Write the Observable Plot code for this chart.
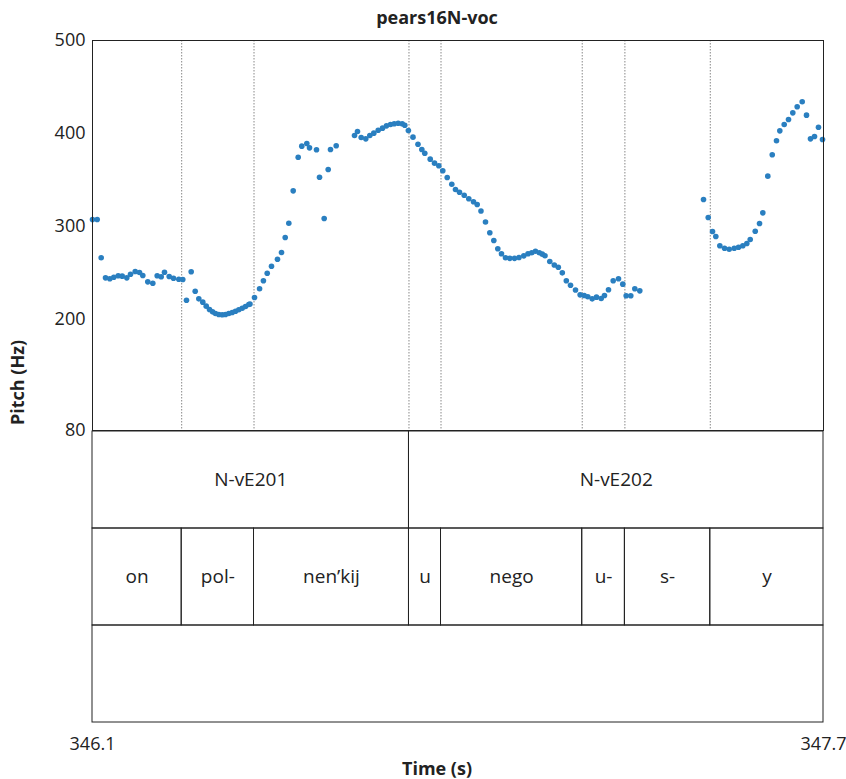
<!DOCTYPE html>
<html><head><meta charset="utf-8">
<script src="https://cdn.jsdelivr.net/npm/d3@7"></script>
<script src="https://cdn.jsdelivr.net/npm/@observablehq/plot@0.6"></script>
<style>body{margin:0;background:#fff} #chart svg{display:block;overflow:visible}</style>
</head><body><div id="chart"></div>
<script>
const title = "pears16N-voc";
const xLabel = "Time (s)";
const yLabel = "Pitch (Hz)";
const xDomain = [346.1, 347.7];
const yDomain = [80, 500];
const yTicks = [80, 200, 300, 400, 500];
const xTicks = [346.1, 347.7];

// pitch track (s, Hz)
const times = [
346.1000,346.1103,346.1190,346.1285,346.1379,346.1466,346.1563,346.1650,346.1751,346.1832,
346.1935,346.2029,346.2101,346.2210,346.2320,346.2416,346.2504,346.2576,346.2679,346.2773,
346.2889,346.2976,346.3057,346.3160,346.3248,346.3327,346.3414,346.3489,346.3561,346.3627,
346.3692,346.3764,346.3839,346.3911,346.3983,346.4058,346.4130,346.4202,346.4277,346.4349,
346.4421,346.4447,346.4546,346.4657,346.4741,346.4824,346.4918,346.5049,346.5137,346.5218,
346.5297,346.5393,346.5502,346.5581,346.5691,346.5750,346.5903,346.5969,346.6071,346.6159,
346.6209,346.6334,346.6735,346.6800,346.6881,346.6982,346.7070,346.7157,346.7253,346.7348,
346.7435,346.7523,346.7604,346.7691,346.7779,346.7836,346.7914,346.8015,346.8124,346.8208,
346.8273,346.8392,346.8486,346.8580,346.8667,346.8764,346.8864,346.8945,346.9033,346.9136,
346.9236,346.9339,346.9420,346.9503,346.9602,346.9696,346.9784,346.9871,346.9952,347.0040,
347.0134,347.0237,347.0335,347.0440,347.0532,347.0615,347.0696,347.0780,347.0845,347.0904,
347.1009,347.1108,347.1196,347.1283,347.1371,347.1463,347.1572,347.1673,347.1762,347.1841,
347.1937,347.2031,347.2134,347.2206,347.2294,347.2397,347.2513,347.2607,347.2681,347.2782,
347.2870,347.2979,
347.4374,347.4477,347.4571,347.4643,347.4731,347.4834,347.4936,347.5046,347.5140,347.5234,
347.5322,347.5396,347.5506,347.5600,347.5672,347.5781,347.5878,347.5971,347.6044,347.6140,
347.6234,347.6328,347.6424,347.6534,347.6628,347.6715,347.6803,347.6890,347.6978
];
const pitches = [
307.2,307.2,266.0,244.4,243.4,245.1,246.6,246.2,244.4,248.3,
251.2,250.2,246.9,240.1,238.6,246.6,245.5,250.5,245.8,244.0,
242.9,242.6,220.3,250.9,230.0,221.8,218.2,213.9,210.3,207.8,
206.0,204.9,204.6,204.9,206.0,207.1,208.5,210.0,211.7,213.5,
215.7,216.2,223.2,232.7,241.2,249.4,256.9,264.5,271.7,287.8,
303.2,338.1,374.3,386.2,389.1,384.4,382.3,352.8,308.3,361.1,
382.6,386.6,397.7,402.0,395.5,394.1,397.7,400.2,403.4,405.6,
408.1,409.5,410.3,410.9,410.3,408.8,403.1,395.9,388.2,382.6,
378.6,372.2,367.9,365.1,359.7,352.5,345.2,339.5,336.6,333.4,
329.5,326.3,323.4,316.4,304.5,293.0,284.6,275.7,270.3,266.0,
265.4,265.4,266.3,268.1,270.3,271.5,273.0,271.5,269.9,268.2,
262.0,258.2,255.8,249.8,241.3,236.4,231.3,226.1,225.4,224.0,
221.8,223.6,222.2,225.4,231.5,241.2,243.4,237.6,225.1,225.1,
232.6,230.4,
328.8,309.4,294.3,288.9,278.9,276.3,275.2,276.3,277.4,278.9,
281.4,285.7,294.6,302.9,314.4,353.9,376.9,392.0,402.7,409.5,
414.9,422.1,428.6,434.0,419.6,394.1,396.6,406.6,393.4
];

// annotation tiers
const tierNames = ["tier1", "tier2", "tier3"];
const tier1Labels = ["N-vE201", "N-vE202"];
const tier1Bounds = [346.1, 346.7927, 347.7];
const tier2Labels = ["on", "pol-", "nen\u2019kij", "u", "nego", "u-", "s-", "y"];
const tier2Bounds = [346.1, 346.2952, 346.4535, 346.7927, 346.8628, 347.1719, 347.2653, 347.4522, 347.7];

const pitchData = times.map((t, i) => ({t, hz: pitches[i]}));
const intervals = [
  ...tier1Labels.map((l, i) => ({tier: "tier1", label: l, start: tier1Bounds[i], end: tier1Bounds[i + 1]})),
  ...tier2Labels.map((l, i) => ({tier: "tier2", label: l, start: tier2Bounds[i], end: tier2Bounds[i + 1]})),
  {tier: "tier3", label: "", start: xDomain[0], end: xDomain[1]}
];
const innerBounds = tier2Bounds.slice(1, -1);

const FONT = "'Open Sans', 'DejaVu Sans', sans-serif";
const W = 846, ML = 92, MR = 23;

const pitchPlot = Plot.plot({
  width: W, height: 430,
  marginTop: 40, marginBottom: 0, marginLeft: ML, marginRight: MR,
  style: {fontFamily: FONT, fontSize: "18px", color: "#222", background: "transparent", overflow: "visible"},
  x: {domain: xDomain, axis: null},
  y: {domain: yDomain},
  marks: [
    Plot.ruleX(innerBounds, {stroke: "#888", strokeWidth: 1, strokeDasharray: "1.5,1.5"}),
    Plot.axisY({ticks: yTicks, tickSize: 0, tickPadding: 7, label: null, fontSize: 18}),
    Plot.dot(pitchData, {x: "t", y: "hz", r: 2.8, fill: "#2a7fc0", stroke: "none"}),
    Plot.frame({stroke: "#222", strokeWidth: 1}),
    Plot.text([title], {frameAnchor: "top", dx: -21, dy: -22, fontWeight: "bold", fontSize: 18, lineAnchor: "middle"}),
    Plot.text([yLabel], {frameAnchor: "bottom-left", dx: -74, dy: -48, rotate: -90, fontWeight: "bold", fontSize: 18, lineAnchor: "middle", textAnchor: "middle"})
  ]
});

const tierPlot = Plot.plot({
  width: W, height: 349,
  marginTop: 0, marginBottom: 56, marginLeft: ML, marginRight: MR,
  style: {fontFamily: FONT, fontSize: "18px", color: "#222", background: "transparent", overflow: "visible"},
  x: {domain: xDomain},
  y: {domain: tierNames, axis: null, padding: 0},
  marks: [
    Plot.barX(intervals, {x1: "start", x2: "end", y: "tier", fill: "none", stroke: "#222", strokeWidth: 1, inset: 0}),
    Plot.text(intervals, {x: d => (d.start + d.end) / 2, y: "tier", text: "label", fontSize: 19, fill: "#222"}),
    Plot.axisX({ticks: xTicks, tickSize: 0, tickPadding: 14, tickFormat: d => d.toFixed(1), label: null, fontSize: 18}),
    Plot.text([xLabel], {frameAnchor: "bottom", dx: -21, dy: 46, fontWeight: "bold", fontSize: 18, lineAnchor: "middle"})
  ]
});

const chart = document.getElementById("chart");
chart.appendChild(pitchPlot);
chart.appendChild(tierPlot);
</script>
</body></html>
